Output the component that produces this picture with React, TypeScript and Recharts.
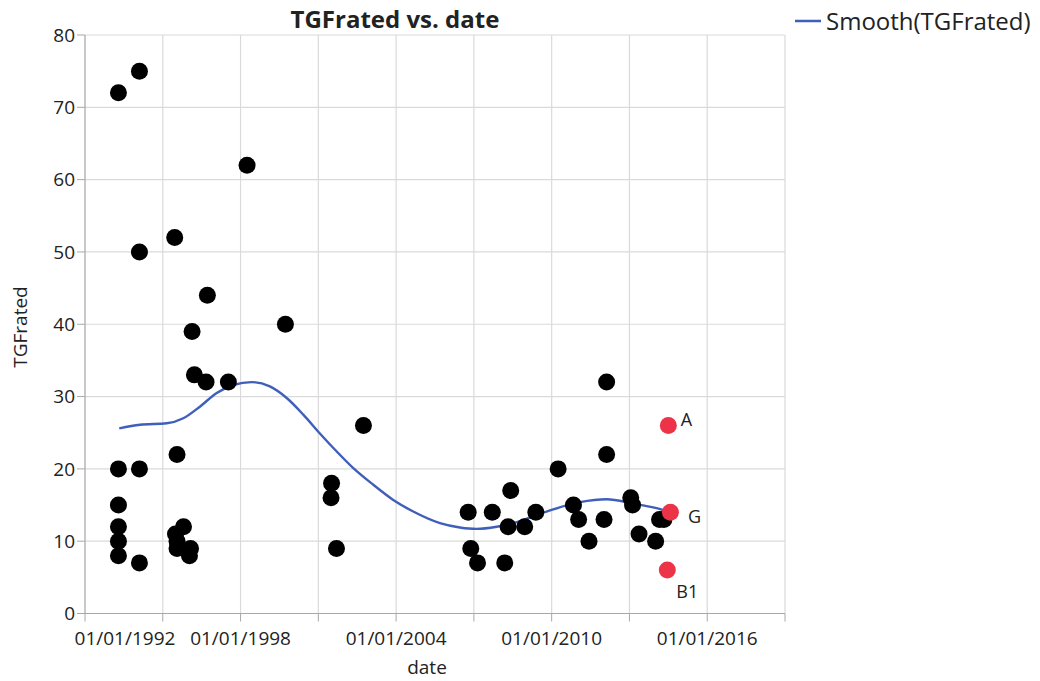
import React from "react";
import {
  ComposedChart,
  Scatter,
  Line,
  XAxis,
  YAxis,
  CartesianGrid,
} from "recharts";

// Dates as decimal years
const blackDates = [
  1993.29, 1993.29, 1993.29, 1993.29, 1993.29, 1993.29,
  1994.1, 1994.1, 1994.1, 1994.1,
  1995.46, 1995.55, 1995.49, 1995.55, 1995.55, 1995.8, 1996.07, 1996.03,
  1996.13, 1996.22, 1996.67, 1996.72, 1997.53, 1998.25, 1999.73,
  2001.49, 2001.51, 2001.7, 2002.74,
  2006.78, 2006.88, 2007.14, 2007.71, 2008.19, 2008.32, 2008.42, 2008.96,
  2009.39, 2010.25, 2010.84, 2011.04, 2011.44, 2012.02, 2012.12, 2012.12,
  2013.05, 2013.12, 2013.37, 2014.01, 2014.16, 2014.33,
];
const blackValues = [
  72, 20, 15, 12, 10, 8,
  75, 50, 20, 7,
  52, 22, 11, 10, 9, 12, 9, 8,
  39, 33, 32, 44, 32, 62, 40,
  16, 18, 9, 26,
  14, 9, 7, 14, 7, 12, 17, 12,
  14, 20, 15, 13, 10, 13, 22, 32,
  16, 15, 11, 10, 13, 13,
];

const redDates = [2014.5, 2014.58, 2014.46];
const redValues = [26, 14, 6];
const redLabels = ["A", "G", "B1"];

const smoothDates = [
  1993.32, 1994.12, 1995.15, 1995.79, 1996.43, 1997.08, 1997.72, 1998.43,
  1999.13, 1999.78, 2000.42, 2001.06, 2001.71, 2002.35, 2003.12, 2003.89,
  2004.66, 2005.69, 2006.46, 2007.1, 2007.88, 2008.52, 2009.8, 2011.09,
  2012.12, 2013.15, 2014.0, 2014.5,
];
const smoothValues = [
  25.6, 26.1, 26.3, 27.0, 28.6, 30.5, 31.6, 32.0,
  31.4, 29.8, 27.5, 24.9, 22.4, 20.1, 17.8, 15.7,
  14.1, 12.5, 11.9, 11.7, 12.0, 12.5, 14.1, 15.4,
  15.8, 15.2, 14.6, 14.1,
];

const xTicks = [1992, 1995, 1998, 2001, 2004, 2007, 2010, 2013, 2016, 2019];
const yTicks = [0, 10, 20, 30, 40, 50, 60, 70, 80];

const title = "TGFrated vs. date";
const xTitle = "date";
const yTitle = "TGFrated";
const legendLabel = "Smooth(TGFrated)";

const blackData = blackDates.map((d, i) => ({ x: d, y: blackValues[i] }));
const redData = redDates.map((d, i) => ({ x: d, y: redValues[i], label: redLabels[i] }));
const smoothData = smoothDates.map((d, i) => ({ x: d, y: smoothValues[i] }));

const FONT = "'Open Sans', 'Noto Sans', sans-serif";
const TEXT = "#222";
const GRID = "#DADADA";
const AXIS = "#A8A8A8";
const BLUE = "#3F5FBA";
const RED = "#EC3348";

const labelOffsets: Record<string, [number, number]> = {
  A: [12.5, -6],
  G: [17.5, 4.6],
  B1: [9, 21.7],
};

const BlackDot = (props: any) => (
  <circle cx={props.cx} cy={props.cy} r={8.5} fill="#000" />
);

const RedDot = (props: any) => {
  const lbl = props.payload?.label as string;
  const off = labelOffsets[lbl] || [10, 0];
  return (
    <g>
      <circle cx={props.cx} cy={props.cy} r={8.5} fill={RED} />
      <text
        x={props.cx + off[0]}
        y={props.cy + off[1]}
        dy="0.36em"
        fontFamily={FONT}
        fontSize={18}
        fill={TEXT}
      >
        {lbl}
      </text>
    </g>
  );
};

const XTick = (props: any) => {
  const { x, y, payload } = props;
  const v = payload.value as number;
  if ((v - 1992) % 6 !== 0 || v >= 2019) return null;
  const dx = v === 1992 ? 40 : 0;
  return (
    <text
      x={x + dx}
      y={y}
      dy={21}
      textAnchor="middle"
      fontFamily={FONT}
      fontSize={19}
      fill={TEXT}
    >
      {`01/01/${v}`}
    </text>
  );
};

export default function App() {
  return (
    <div
      style={{
        position: "absolute",
        left: 0,
        top: 0,
        width: 1040,
        height: 681,
        background: "#fff",
      }}
    >
      <ComposedChart
        width={1040}
        height={681}
        margin={{ top: 35, right: 255, bottom: 17.5, left: 5 }}
      >
        <CartesianGrid stroke={GRID} strokeWidth={1.2} />
        <XAxis
          type="number"
          dataKey="x"
          domain={[1992, 2019]}
          ticks={xTicks}
          interval={0}
          height={50}
          tickSize={8}
          tickMargin={2}
          stroke={AXIS}
          tickLine={{ stroke: AXIS }}
          tick={<XTick />}
          allowDataOverflow
        />
        <YAxis
          type="number"
          dataKey="y"
          domain={[0, 80]}
          ticks={yTicks}
          interval={0}
          width={80}
          tickSize={8}
          tickMargin={2}
          stroke={AXIS}
          tickLine={{ stroke: AXIS }}
          tick={{ fill: TEXT, fontSize: 19, fontFamily: FONT }}
        />
        <Scatter
          data={blackData}
          dataKey="y"
          shape={<BlackDot />}
          isAnimationActive={false}
        />
        <Scatter
          data={redData}
          dataKey="y"
          shape={<RedDot />}
          isAnimationActive={false}
        />
        <Line
          data={smoothData}
          dataKey="y"
          type="monotone"
          stroke={BLUE}
          strokeWidth={2.4}
          dot={false}
          activeDot={false}
          isAnimationActive={false}
        />
      </ComposedChart>
      <svg
        width={1040}
        height={681}
        style={{ position: "absolute", left: 0, top: 0, pointerEvents: "none" }}
      >
        <text
          x={395}
          y={28}
          textAnchor="middle"
          fontFamily={FONT}
          fontWeight="bold"
          fontSize={24}
          fill={TEXT}
        >
          {title}
        </text>
        <line x1={795} x2={821} y1={21} y2={21} stroke={BLUE} strokeWidth={2.5} />
        <text x={826} y={30} fontFamily={FONT} fontSize={24} fill={TEXT}>
          {legendLabel}
        </text>
        <text
          x={427}
          y={674}
          textAnchor="middle"
          fontFamily={FONT}
          fontSize={19}
          fill={TEXT}
        >
          {xTitle}
        </text>
        <text
          x={27}
          y={327}
          textAnchor="middle"
          transform="rotate(-90 27 327)"
          fontFamily={FONT}
          fontSize={19}
          fill={TEXT}
        >
          {yTitle}
        </text>
      </svg>
    </div>
  );
}
